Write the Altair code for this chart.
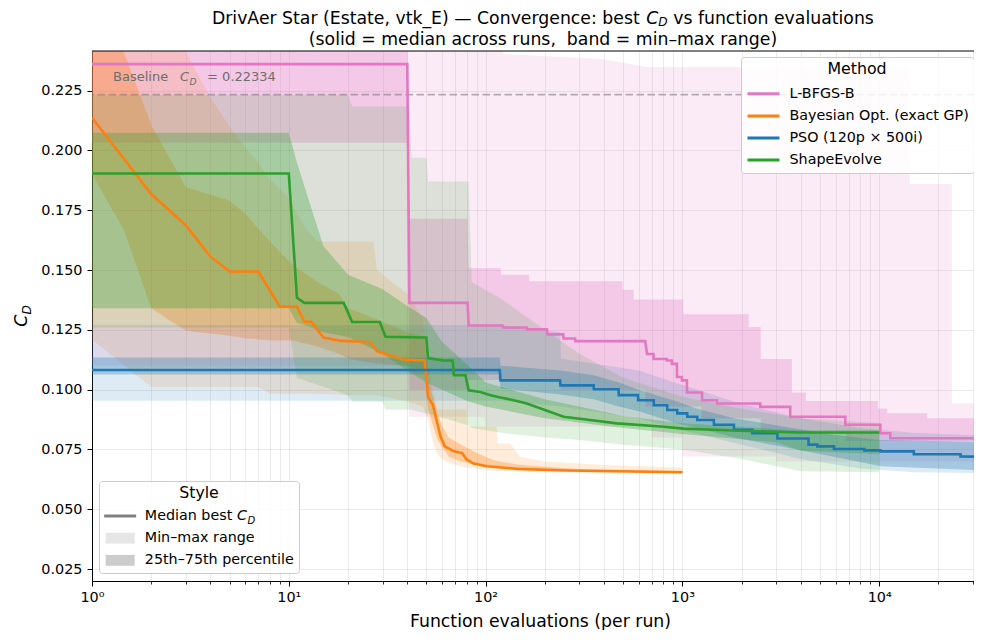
import altair as alt
import pandas as pd

FONT = "DejaVu Sans"

# ---------------------------------------------------------------- data
METHODS = ["L-BFGS-B", "Bayesian Opt. (exact GP)", "PSO (120p × 500i)", "ShapeEvolve"]
COLORS = ["#e377c2", "#ff7f0e", "#1f77b4", "#2ca02c"]
STYLE_ITEMS = ["Median best", "Min–max range", "25th–75th percentile"]
STYLE_COLORS = ["#808080", "#e6e6e6", "#cccccc"]
BASELINE_CD = 0.22334

Y_TICKS = [0.025, 0.05, 0.075, 0.1, 0.125, 0.15, 0.175, 0.2, 0.225]
X_MAJOR = [1, 10, 100, 1000, 10000]
X_MAJOR_LABELS = ["10⁰", "10¹", "10²", "10³", "10⁴"]

# L-BFGS-B
lbfgs_med_E = [1, 40, 41, 81, 82, 122, 123, 162, 163, 205, 206, 248, 249, 285, 286, 647, 661, 713, 714, 834,
               835, 884, 885, 938, 939, 994, 995, 1054, 1055, 1258, 1259, 1499, 1500, 2488, 2489, 3531, 3532,
               6724, 6725, 10129, 10130, 11389, 11390, 40000]
lbfgs_med = [0.2361, 0.2361, 0.1363, 0.1363, 0.1268, 0.1268, 0.1260, 0.1260, 0.1252, 0.1252, 0.1231, 0.1231,
             0.1214, 0.1214, 0.1203, 0.1203, 0.1149, 0.1149, 0.1128, 0.1128, 0.1122, 0.1122, 0.1108, 0.1108,
             0.1053, 0.1053, 0.1039, 0.1039, 0.0988, 0.0988, 0.0956, 0.0956, 0.0942, 0.0942, 0.0928, 0.0928,
             0.0887, 0.0887, 0.0853, 0.0853, 0.0818, 0.0818, 0.0797, 0.0797]
lbfgs_rng_E = [1, 40, 41, 99, 100, 122, 123, 380, 660, 699, 700, 999, 1000, 2999, 3000, 14300, 14301, 23400,
               23401, 40000]
lbfgs_min = [0.110, 0.110, 0.0887, 0.0887, 0.0846, 0.0846, 0.0846, 0.0846, 0.0846, 0.0846, 0.0800, 0.0800,
             0.0721, 0.0721, 0.0700, 0.0700, 0.0700, 0.0700, 0.0700, 0.0700]
lbfgs_max = [0.26, 0.26, 0.26, 0.26, 0.26, 0.26, 0.2403, 0.2384, 0.2349, 0.2349, 0.2349, 0.2349, 0.2349,
             0.2349, 0.2349, 0.2349, 0.186, 0.186, 0.0942, 0.0942]
lbfgs_iqr_E = [1, 40, 41, 81, 82, 119, 120, 166, 167, 240, 241, 496, 497, 565, 566, 649, 650, 1010, 1011, 1249,
               1250, 2170, 2171, 2499, 2500, 3600, 3601, 4240, 4241, 6799, 6800, 9860, 9861, 11000, 11001,
               17500, 17501, 40000]
lbfgs_q25 = [0.2032, 0.2032, 0.0999, 0.0999, 0.104, 0.104, 0.104, 0.104, 0.104, 0.104, 0.100, 0.100, 0.100,
             0.100, 0.100, 0.100, 0.093, 0.093, 0.093, 0.093, 0.088, 0.088, 0.088, 0.088, 0.082, 0.082, 0.082,
             0.082, 0.082, 0.082, 0.0785, 0.0785, 0.0785, 0.0785, 0.0785, 0.0785, 0.0785, 0.0785]
lbfgs_q75 = [0.26, 0.26, 0.1715, 0.1715, 0.1508, 0.1508, 0.148, 0.148, 0.1453, 0.1453, 0.1453, 0.1453, 0.1418,
             0.1418, 0.1377, 0.1377, 0.1377, 0.1377, 0.1315, 0.1315, 0.1315, 0.1315, 0.1262, 0.1262, 0.1128,
             0.1128, 0.0988, 0.0988, 0.0953, 0.0953, 0.0953, 0.0953, 0.0921, 0.0921, 0.0901, 0.0901, 0.0880,
             0.0880]

# Bayesian optimisation
bo_med_E = [1, 2, 3, 4, 5, 7, 9, 11, 12, 13, 15, 18, 26, 28, 33, 38, 49, 51, 54, 59, 62, 69, 76, 80, 87, 102,
            145, 260, 1000]
bo_med = [0.2137, 0.1818, 0.1687, 0.1556, 0.1494, 0.1494, 0.1347, 0.1347, 0.1284, 0.1284, 0.1218, 0.1205,
          0.1198, 0.1161, 0.1143, 0.1126, 0.1122, 0.0970, 0.0936, 0.0804, 0.0763, 0.0742, 0.0735, 0.0708,
          0.0691, 0.0680, 0.0669, 0.0662, 0.0655]
bo_rng_E = [1, 2, 3, 4, 5.5, 7, 8, 10, 12, 14, 20, 27, 28, 40, 48, 51, 54, 57, 62, 75, 80, 81, 100, 114, 115,
            133, 150, 200, 400, 1000]
bo_min = [0.121, 0.1011, 0.1011, 0.1011, 0.1011, 0.1011, 0.0983, 0.0983, 0.0983, 0.0983, 0.0977, 0.0977,
          0.0977, 0.095, 0.093, 0.0875, 0.078, 0.073, 0.070, 0.068, 0.0675, 0.0675, 0.0665, 0.066, 0.066,
          0.066, 0.0658, 0.0655, 0.065, 0.0648]
bo_max = [0.26, 0.25, 0.2412, 0.222, 0.205, 0.195, 0.188, 0.180, 0.168, 0.162, 0.162, 0.162, 0.150, 0.140,
          0.130, 0.110, 0.0995, 0.0916, 0.0916, 0.0916, 0.0916, 0.0846, 0.0846, 0.0846, 0.0775, 0.0775, 0.072,
          0.070, 0.0685, 0.0675]
bo_iqr_E = [1, 1.45, 2, 3, 5, 6, 8.2, 10.5, 14, 18, 20, 27, 40, 49, 51, 54, 57, 60, 65, 75, 90, 110, 150, 300,
            1000]
bo_q25 = [0.190, 0.167, 0.134, 0.1246, 0.1225, 0.1215, 0.1206, 0.1206, 0.118, 0.115, 0.113, 0.111, 0.110,
          0.108, 0.092, 0.085, 0.079, 0.076, 0.072, 0.070, 0.0685, 0.0675, 0.0665, 0.066, 0.0652]
bo_q75 = [0.26, 0.2412, 0.2108, 0.1846, 0.179, 0.1736, 0.161, 0.152, 0.145, 0.140, 0.134, 0.130, 0.124, 0.122,
          0.104, 0.097, 0.090, 0.085, 0.080, 0.077, 0.0735, 0.0705, 0.0685, 0.0668, 0.066]

# PSO
pso_med_E = [1, 118, 119, 239, 240, 354, 355, 474, 475, 595, 596, 715, 716, 837, 838, 941, 942, 1058, 1059,
             1189, 1190, 1445, 1446, 1827, 1828, 2268, 2269, 3039, 3040, 4373, 4374, 4849, 4850, 5889, 5890,
             8399, 8400, 10129, 10130, 14999, 15000, 25899, 25900, 40000]
pso_med = [0.1082, 0.1082, 0.1039, 0.1039, 0.1018, 0.1018, 0.1002, 0.1002, 0.0977, 0.0977, 0.0956, 0.0956,
           0.0935, 0.0935, 0.0915, 0.0915, 0.0901, 0.0901, 0.0887, 0.0887, 0.0873, 0.0873, 0.0853, 0.0853,
           0.0832, 0.0832, 0.0818, 0.0818, 0.0796, 0.0796, 0.0770, 0.0770, 0.0763, 0.0763, 0.0752, 0.0752,
           0.0746, 0.0746, 0.0742, 0.0742, 0.0730, 0.0730, 0.0721, 0.0718]
pso_rng_E = [1, 118, 240, 241, 600, 1000, 2000, 4000, 8000, 15000, 40000]
pso_min = [0.0954, 0.0954, 0.093, 0.093, 0.088, 0.083, 0.077, 0.071, 0.067, 0.0655, 0.065]
pso_max = [0.127, 0.127, 0.124, 0.113, 0.108, 0.102, 0.094, 0.088, 0.084, 0.082, 0.0805]
pso_iqr_E = [1, 118, 119, 240, 355, 475, 600, 716, 940, 1190, 1830, 3040, 5890, 10180, 40000]
pso_q25 = [0.1063, 0.1063, 0.1005, 0.098, 0.096, 0.093, 0.091, 0.089, 0.086, 0.084, 0.080, 0.0765, 0.072,
           0.068, 0.066]
pso_q75 = [0.1135, 0.1135, 0.1100, 0.1080, 0.1060, 0.1030, 0.1000, 0.0980, 0.0950, 0.0920, 0.0880, 0.0850,
           0.0810, 0.0790, 0.0780]

# ShapeEvolve
se_med_E = [1, 10, 11, 12, 19, 21, 29, 31, 50, 51, 61, 68, 69, 79, 82, 94, 106, 119, 139, 162, 200, 249, 316,
            465, 777, 1010, 1830, 3950, 10000]
se_med = [0.1904, 0.1904, 0.1384, 0.1363, 0.1363, 0.1283, 0.1283, 0.1221, 0.1218, 0.1132, 0.1122, 0.1122,
          0.1060, 0.1060, 0.0997, 0.0990, 0.0977, 0.0967, 0.0956, 0.0942, 0.0915, 0.0887, 0.0876, 0.0859,
          0.0846, 0.0837, 0.0829, 0.0821, 0.0821]
se_rng_E = [1, 10, 11, 20, 21, 30, 31, 41, 42, 50, 51, 82, 85, 120, 200, 300, 500, 1000, 2000, 4000, 10000]
se_min = [0.126, 0.126, 0.105, 0.0977, 0.0949, 0.0949, 0.0916, 0.0916, 0.0916, 0.090, 0.090, 0.085, 0.084,
          0.082, 0.080, 0.079, 0.077, 0.075, 0.071, 0.0659, 0.0655]
se_max = [0.2232, 0.2232, 0.2232, 0.2232, 0.2184, 0.2184, 0.2184, 0.2184, 0.197, 0.197, 0.187, 0.187, 0.145,
          0.138, 0.125, 0.115, 0.105, 0.097, 0.092, 0.088, 0.086]
se_iqr_E = [1, 10, 11, 12, 15, 20, 30, 40, 50, 60, 82, 100, 200, 500, 1000, 3000, 4000, 10000]
se_q25 = [0.134, 0.134, 0.128, 0.127, 0.124, 0.122, 0.115, 0.108, 0.103, 0.100, 0.095, 0.093, 0.088, 0.084,
          0.0815, 0.078, 0.0745, 0.073]
se_q75 = [0.2074, 0.2074, 0.195, 0.185, 0.160, 0.148, 0.142, 0.135, 0.130, 0.120, 0.110, 0.103, 0.096, 0.089,
          0.086, 0.0835, 0.083, 0.083]

SERIES = [
    (METHODS[0], lbfgs_med_E, lbfgs_med, lbfgs_rng_E, lbfgs_min, lbfgs_max, lbfgs_iqr_E, lbfgs_q25, lbfgs_q75),
    (METHODS[1], bo_med_E, bo_med, bo_rng_E, bo_min, bo_max, bo_iqr_E, bo_q25, bo_q75),
    (METHODS[2], pso_med_E, pso_med, pso_rng_E, pso_min, pso_max, pso_iqr_E, pso_q25, pso_q75),
    (METHODS[3], se_med_E, se_med, se_rng_E, se_min, se_max, se_iqr_E, se_q25, se_q75),
]

# ---------------------------------------------------------------- layout
PX_DECADE = 196.8
W, H = 882, 530
PAD = {"left": 84, "top": 43, "right": 0, "bottom": 49}
X_MAX = 10 ** (W / PX_DECADE)
Y_DOMAIN = [0.0200, 0.2416]

X_TICKS = [m * 10 ** k for k in range(5) for m in range(1, 10) if m * 10 ** k <= X_MAX]

DV = {' ': 651, '(': 799, ')': 799, ',': 651, '-': 739, '.': 651, ':': 690, '=': 1716, '_': 1024,
      '—': 2048, '–': 1024, '×': 1716,
      'A': 1401, 'B': 1405, 'C': 1430, 'D': 1577, 'E': 1294, 'F': 1178, 'G': 1589, 'L': 1141, 'M': 1767,
      'O': 1612, 'P': 1235, 'S': 1300, 'V': 1401,
      'a': 1255, 'b': 1300, 'c': 1126, 'd': 1300, 'e': 1260, 'f': 721, 'g': 1300, 'h': 1298, 'i': 569,
      'k': 1186, 'l': 569, 'm': 1995, 'n': 1298, 'o': 1253, 'p': 1300, 'r': 842, 's': 1067, 't': 803,
      'u': 1298, 'v': 1212, 'x': 1212, 'y': 1212}
for _d in "0123456789":
    DV[_d] = 1303


def tw(s, size):
    return sum(DV.get(ch, 1250) for ch in s) / 2048.0 * size


xscale = alt.Scale(type="log", domain=[1, X_MAX], nice=False)
yscale = alt.Scale(domain=Y_DOMAIN, nice=False, zero=False)

MAJOR_TEST = "indexof([1,10,100,1000,10000], datum.value) >= 0"
label_expr = " : ".join(
    f"datum.value == {v} ? '{t}'" for v, t in zip(X_MAJOR, X_MAJOR_LABELS)) + " : ''"

xaxis = alt.Axis(
    values=X_TICKS, labelExpr=label_expr, title="Function evaluations (per run)",
    titleFont=FONT, titleFontSize=17.3, titleFontWeight="normal", titleColor="black",
    titleX=448, titleY=45, titleBaseline="alphabetic", titleAlign="center",
    labelFont=FONT, labelFontSize=14.4, labelColor="black", labelPadding=4, labelOverlap=False,
    labelFlush=False,
    tickColor="black",
    tickSize={"condition": {"test": MAJOR_TEST, "value": 5}, "value": 3},
    tickWidth={"condition": {"test": MAJOR_TEST, "value": 1}, "value": 0.8},
    domainColor="black", domainWidth=1,
    grid=True, gridColor="#000000", gridOpacity=0.1, gridWidth=0.8,
)
yaxis = alt.Axis(
    values=Y_TICKS, format=".3f", title=None,
    labelFont=FONT, labelFontSize=14.4, labelColor="black", labelPadding=5,
    tickSize=5, tickColor="black", tickWidth=1, domainColor="black", domainWidth=1,
    grid=True, gridColor="#000000", gridOpacity=0.1, gridWidth=0.8,
)


def X(field="E"):
    return alt.X(f"{field}:Q", scale=xscale, axis=xaxis)


def Y(field):
    return alt.Y(f"{field}:Q", scale=yscale, axis=yaxis)


one = pd.DataFrame({"k": [0]})
layers = []
COLOR_OF = dict(zip(METHODS, COLORS))

# bands (min-max then IQR, per method)
for name, mE, mv, rE, rlo, rhi, qE, q1, q3 in SERIES:
    rng = pd.DataFrame({"E": rE, "lo": rlo, "hi": rhi})
    iqr = pd.DataFrame({"E": qE, "lo": q1, "hi": q3})
    for df, op in ((rng, 0.15), (iqr, 0.30)):
        layers.append(
            alt.Chart(df).mark_area(opacity=op, clip=True, color=COLOR_OF[name]).encode(
                x=X(), y=Y("lo"), y2="hi:Q",
            )
        )

# baseline
layers.append(
    alt.Chart(pd.DataFrame({"v": [BASELINE_CD]})).mark_rule(
        color="#808080", opacity=0.6, strokeWidth=1.6, strokeDash=[7.5, 3.5]
    ).encode(y=Y("v"))
)

# medians
med = pd.concat([pd.DataFrame({"Method": s[0], "E": s[1], "v": s[2]}) for s in SERIES], ignore_index=True)
LEG_W = 231
method_legend = alt.Legend(
    title="Method", orient="none", legendX=W - 2 - LEG_W, legendY=6,
    symbolType="M-1,0H3.571", symbolSize=196, symbolStrokeWidth=3,
    labelFont=FONT, labelFontSize=14.3, labelColor="black", labelOffset=26.5, labelLimit=400,
    titleFont=FONT, titleFontSize=15.8, titleFontWeight="normal", titleColor="black",
    titleAnchor="middle", titlePadding=7.5,
    padding=5, rowPadding=6.1, fillColor="rgba(255,255,255,0.85)", strokeColor="#cccccc",
    cornerRadius=3,
)
layers.append(
    alt.Chart(med).mark_line(strokeWidth=2.6, clip=True).encode(
        x=X(), y=Y("v"),
        stroke=alt.Stroke("Method:N", scale=alt.Scale(domain=METHODS, range=COLORS), legend=method_legend),
    )
)

# style legend (background + legend built from the scale domain)
ST_TOP = H - 7 - 93
layers.append(
    alt.Chart(one).mark_rect(color="white", opacity=0.85).encode(
        x=alt.value(7), x2=alt.value(209), y=alt.value(ST_TOP), y2=alt.value(ST_TOP + 92)
    )
)
STYLE_SHAPES = ["M-1,-0.214H3.571V0.214H-1Z", "M-0.786,-0.779H3.357V0.779H-0.786Z",
                "M-0.786,-0.779H3.357V0.779H-0.786Z"]
style_legend = alt.Legend(
    title="Style", orient="none", legendX=7, legendY=ST_TOP,
    symbolSize=196, symbolStrokeWidth=0, symbolOpacity=1,
    labelFont=FONT, labelFontSize=14.3, labelColor="black", labelOffset=26.5, labelLimit=400,
    titleFont=FONT, titleFontSize=15.8, titleFontWeight="normal", titleColor="black",
    titleAnchor="middle", titlePadding=7,
    padding=5, rowPadding=7.2, fillColor="transparent", strokeColor="#cccccc", cornerRadius=3,
)
style_df = pd.DataFrame({"style": STYLE_ITEMS, "E": [1, 1, 1], "v": [0.1, 0.1, 0.1]})
layers.append(
    alt.Chart(style_df).mark_point(filled=True, size=196, opacity=1).encode(
        x=X(), y=Y("v"),
        fill=alt.Fill("style:N", scale=alt.Scale(domain=STYLE_ITEMS, range=STYLE_COLORS), legend=style_legend),
        shape=alt.Shape("style:N", scale=alt.Scale(domain=STYLE_ITEMS, range=STYLE_SHAPES), legend=style_legend),
    ).transform_filter("false")
)


def ptext(text, x, y, size, color="black", align="left", style="normal", angle=0):
    return alt.Chart(one).mark_text(
        text=text, font=FONT, fontSize=size, color=color, align=align, baseline="alphabetic",
        fontStyle=style, angle=angle,
    ).encode(x=alt.value(x), y=alt.value(y))


# "C_D" after "Median best" in the style legend
layers.append(ptext("C", 145, ST_TOP + 39.4, 14.3, style="italic"))
layers.append(ptext("D", 155.5, ST_TOP + 42.7, 10, style="italic"))

# baseline annotation (data-anchored)
BASE_LABEL_AT = (1.28, 0.2289)
for txt, dx, dy, fs, st in (("Baseline", 0, 0, 13, "normal"), ("C", 67, 0, 13, "italic"),
                            ("D", 76.5, 3.3, 9.1, "italic"), ("= 0.22334", 94, 0, 13, "normal")):
    layers.append(
        alt.Chart(one).mark_text(
            text=txt, font=FONT, fontSize=fs, color="#6e6e6e", align="left", baseline="alphabetic",
            fontStyle=st, dx=dx, dy=dy,
        ).encode(x=alt.datum(BASE_LABEL_AT[0]), y=alt.datum(BASE_LABEL_AT[1]))
    )

# title (two lines, with C_D in math style)
TFS = 17.3
cx = 543 - 92
p1 = "DrivAer Star (Estate, vtk_E) — Convergence: best"
p3 = "vs function evaluations"
sp = tw(" ", TFS)
wC = tw("C", TFS)
wD = tw("D", 0.7 * TFS)
total = tw(p1, TFS) + sp + wC + wD + sp + tw(p3, TFS)
x0 = cx - total / 2
xC = x0 + tw(p1, TFS) + sp
xD = xC + wC
x3 = xD + wD + sp
T1, T2 = -26.8, -5.6
layers.append(ptext(p1, x0, T1, TFS))
layers.append(ptext("C", xC, T1, TFS, style="italic"))
layers.append(ptext("D", xD, T1 + 0.12 * TFS, 0.7 * TFS, style="italic"))
layers.append(ptext(p3, x3, T1, TFS))
layers.append(ptext("(solid = median across runs,\u00a0 band = min–max range)", cx, T2, TFS, align="center"))

# y-axis title C_D (rotated)
YFS = 17.3
yC = H / 2 + (tw("C", YFS) + tw("D", 0.7 * YFS)) / 2
layers.append(ptext("C", -65, yC, YFS, style="italic", angle=270))
layers.append(ptext("D", -65 + 0.25 * YFS, yC - tw("C", YFS), 0.7 * YFS, style="italic", angle=270))

# top spine
layers.append(alt.Chart(one).mark_rule(color="black", strokeWidth=1).encode(y=alt.value(0)))

chart = alt.layer(*layers).properties(
    width=W, height=H, padding=PAD, autosize=alt.AutoSizeParams(type="none"),
    background="white",
).configure_view(stroke=None)

chart.save("out.html", embed_options={"renderer": "svg", "actions": False})
